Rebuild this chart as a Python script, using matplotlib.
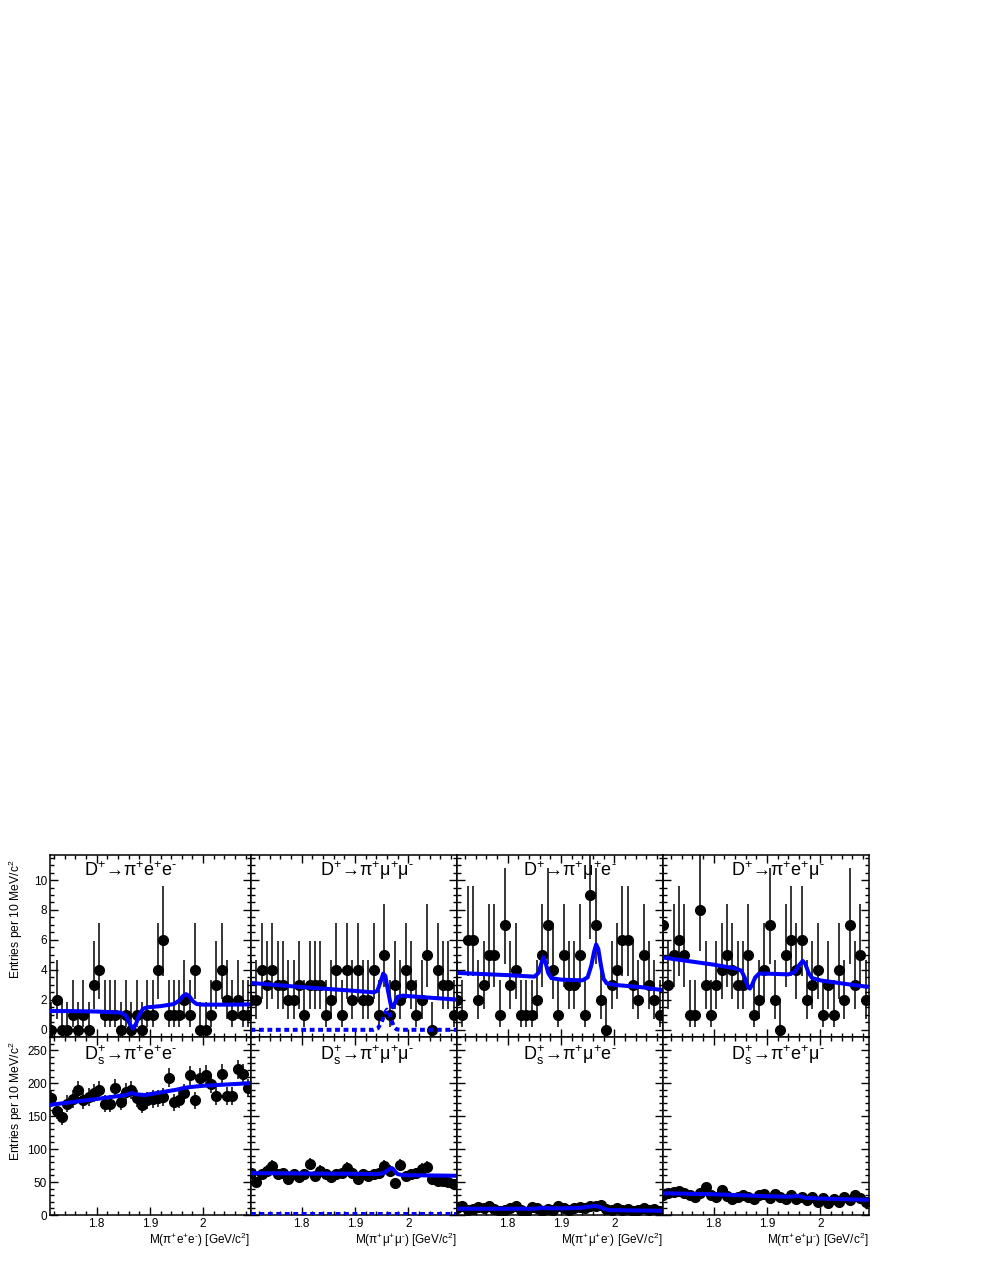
import numpy as np
import matplotlib
matplotlib.use("Agg")
import matplotlib.pyplot as plt
from matplotlib.ticker import MultipleLocator, FuncFormatter, NullFormatter

plt.rcParams['font.family'] = ['Liberation Sans', 'DejaVu Sans']
plt.rcParams['mathtext.fontset'] = 'custom'
plt.rcParams['mathtext.rm'] = 'Liberation Sans'
plt.rcParams['mathtext.it'] = 'Liberation Sans:italic'
plt.rcParams['mathtext.bf'] = 'Liberation Sans:bold'

# ---------------- data ----------------
BINS = np.round(np.arange(1.705, 2.09, 0.01), 3)      # 39 bin centres (10 MeV bins)

# top row: D+ channels (counts)
dp_ee   = [0, 2, 0, 0, 1, 0, 1, 0, 3, 4, 1, 1, 1, 0, 1, 0, 1, 0, 1, 1, 4, 6, 1, 1, 1, 2, 1, 4, 0, 0, 1, 3, 4, 2, 1, 2, 1, 1]   # starts at 1.715
dp_mumu = [2, 2, 4, 3, 4, 3, 3, 2, 2, 3, 1, 3, 3, 3, 1, 2, 4, 1, 4, 2, 4, 2, 2, 4, 1, 5, 1, 3, 2, 4, 3, 1, 2, 5, 0, 4, 3, 3, 1]
dp_mue  = [2, 1, 6, 6, 2, 3, 5, 5, 1, 7, 3, 4, 1, 1, 1, 2, 5, 7, 4, 1, 5, 3, 3, 5, 1, 9, 7, 2, 0, 3, 4, 6, 6, 3, 2, 5, 3, 2, 1]
dp_emu  = [7, 3, 5, 6, 5, 1, 1, 8, 3, 1, 3, 4, 5, 4, 3, 3, 5, 1, 2, 4, 7, 2, 0, 5, 6, 4, 6, 2, 3, 4, 1, 3, 1, 4, 2, 7, 3, 5, 2]

# bottom row: Ds+ channels (counts)
ds_ee   = [177, 158, 149, 169, 176, 190, 174, 179, 185, 189, 169, 169, 193, 172, 187, 189, 177, 167, 174, 176,
           177, 179, 208, 171, 175, 185, 212, 174, 208, 213, 199, 180, 214, 180, 180, 221, 214, 193]   # starts at 1.715
ds_mumu = [64, 50, 62, 67, 75, 62, 64, 54, 62, 58, 62, 77, 59, 67, 62, 58, 62, 64, 72, 64, 54, 62, 59, 62, 64,
           75, 67, 49, 76, 59, 62, 64, 70, 73, 55, 52, 52, 50, 47]
ds_mue  = [10, 14, 8, 9, 12, 10, 13, 9, 6, 8, 11, 13, 7, 5, 12, 10, 6, 9, 8, 13, 10, 8, 11, 12, 10, 14, 13, 15,
           9, 8, 10, 7, 9, 6, 8, 10, 7, 9, 6]
ds_emu  = [30, 34, 35, 36, 33, 30, 28, 33, 42, 30, 28, 38, 29, 25, 27, 30, 28, 25, 30, 32, 26, 32, 28, 24, 30,
           25, 28, 22, 27, 20, 26, 18, 24, 20, 27, 22, 31, 26, 20]

# fit curves (x, y)
fit_dp_ee_x = [1.712, 1.75, 1.80, 1.845, 1.855, 1.862, 1.868, 1.874, 1.880, 1.887, 1.895, 1.92, 1.945, 1.955,
               1.962, 1.968, 1.974, 1.981, 1.988, 2.00, 2.05, 2.089]
fit_dp_ee_y = [1.25, 1.25, 1.22, 1.15, 0.95, 0.4, 0.08, 0.4, 1.0, 1.4, 1.5, 1.58, 1.72, 1.95, 2.25, 2.38, 2.25,
               1.9, 1.72, 1.68, 1.68, 1.70]
fit_dp_mumu_x = [1.704, 1.80, 1.90, 1.935, 1.942, 1.948, 1.953, 1.957, 1.962, 1.967, 1.971, 1.975, 1.980, 1.99,
                 2.0, 2.05, 2.091]
fit_dp_mumu_y = [3.13, 2.85, 2.6, 2.5, 2.6, 3.2, 3.75, 3.6, 2.6, 1.7, 1.5, 1.8, 2.2, 2.28, 2.25, 2.12, 2.02]
bkg_dp_mumu_x = [1.704, 1.935, 1.943, 1.950, 1.956, 1.960, 1.964, 1.968, 1.973, 1.978, 1.985, 2.091]
bkg_dp_mumu_y = [0, 0, 0.1, 0.5, 1.1, 1.35, 1.2, 0.7, 0.2, 0.03, 0, 0]
fit_dp_mue_x = [1.704, 1.80, 1.85, 1.858, 1.863, 1.867, 1.871, 1.876, 1.882, 1.90, 1.94, 1.950, 1.957, 1.962,
                1.966, 1.970, 1.975, 1.980, 1.986, 2.0, 2.05, 2.091]
fit_dp_mue_y = [3.8, 3.65, 3.55, 3.8, 4.4, 4.85, 4.5, 3.8, 3.45, 3.35, 3.3, 3.5, 4.3, 5.2, 5.7, 5.4, 4.3, 3.4,
                3.1, 3.0, 2.85, 2.65]
fit_dp_emu_x = [1.704, 1.80, 1.84, 1.852, 1.858, 1.864, 1.868, 1.872, 1.878, 1.885, 1.90, 1.94, 1.952, 1.960,
                1.967, 1.972, 1.978, 1.985, 2.0, 2.05, 2.091]
fit_dp_emu_y = [4.83, 4.35, 4.1, 3.95, 3.5, 2.9, 2.75, 3.0, 3.5, 3.75, 3.75, 3.7, 3.85, 4.3, 4.6, 4.4, 3.8,
                3.45, 3.3, 3.05, 2.86]

fit_ds_ee_x = [1.712, 1.80, 1.855, 1.865, 1.875, 1.89, 1.95, 1.965, 1.975, 2.0, 2.089]
fit_ds_ee_y = [167, 176, 182, 185, 183, 182, 190, 193, 194, 196, 200]
fit_ds_mumu_x = [1.704, 1.80, 1.90, 1.945, 1.955, 1.963, 1.968, 1.973, 1.980, 1.99, 2.091]
fit_ds_mumu_y = [63.5, 63, 62.5, 62, 64, 69, 71, 68, 62, 60.5, 59.5]
bkg_ds_mumu_x = [1.704, 2.091]
bkg_ds_mumu_y = [2.0, 2.0]
fit_ds_mue_x = [1.704, 1.80, 1.855, 1.866, 1.877, 1.90, 1.94, 1.95, 1.962, 1.972, 1.982, 1.99, 2.091]
fit_ds_mue_y = [9.5, 9.5, 9.6, 11, 10.2, 10, 11, 12.5, 13.7, 12.5, 9, 7.5, 6.3]
fit_ds_emu_x = [1.704, 1.80, 1.90, 1.945, 1.955, 1.962, 1.972, 2.0, 2.091]
fit_ds_emu_y = [33, 31.5, 28.5, 27.8, 29, 28.5, 26, 25, 23]

M = r'$^{\text{-}}$'
top_titles = [r'D$^{+}$→π$^{+}$e$^{+}$e' + M, r'D$^{+}$→π$^{+}$μ$^{+}$μ' + M,
              r'D$^{+}$→π$^{+}$μ$^{+}$e' + M, r'D$^{+}$→π$^{+}$e$^{+}$μ' + M]
bot_titles = [r'D$_{\mathrm{s}}^{+}$→π$^{+}$e$^{+}$e' + M, r'D$_{\mathrm{s}}^{+}$→π$^{+}$μ$^{+}$μ' + M,
              r'D$_{\mathrm{s}}^{+}$→π$^{+}$μ$^{+}$e' + M, r'D$_{\mathrm{s}}^{+}$→π$^{+}$e$^{+}$μ' + M]
x_titles = [r'M(π$^{+}$e$^{+}$e' + M + r') [GeV/c$^{2}$]', r'M(π$^{+}$μ$^{+}$μ' + M + r') [GeV/c$^{2}$]',
            r'M(π$^{+}$μ$^{+}$e' + M + r') [GeV/c$^{2}$]', r'M(π$^{+}$e$^{+}$μ' + M + r') [GeV/c$^{2}$]']
y_title = r'Entries per 10 MeV/c$^{2}$'

# Garwood (68%) Poisson intervals for small counts: n -> (low, high)
POISSON = {0: (0.0, 1.841), 1: (0.827, 2.299), 2: (1.292, 2.637), 3: (1.633, 2.918), 4: (1.914, 3.162),
           5: (2.159, 3.382), 6: (2.380, 3.583), 7: (2.581, 3.770), 8: (2.768, 3.944), 9: (2.943, 4.110),
           10: (3.108, 4.266), 11: (3.265, 4.416), 12: (3.414, 4.559), 13: (3.558, 4.697), 14: (3.696, 4.830),
           15: (3.829, 4.958)}


def errs(counts):
    lo, hi = [], []
    for n in counts:
        if n in POISSON:
            l, h = POISSON[n]
        else:
            l = h = np.sqrt(n)
        lo.append(l)
        hi.append(h)
    return [lo, hi]


# ---------------- layout ----------------
W, H = 981, 1269
fig = plt.figure(figsize=(W / 100, H / 100), dpi=100)

cols = [(50, 250.5), (250.5, 456.5), (456.5, 662.5), (662.5, 868.5)]
rows = [(855, 1037), (1037, 1215)]
xlims = [(1.7124, 2.089), (1.704, 2.0905), (1.704, 2.0905), (1.704, 2.0905)]

top_data = [dp_ee, dp_mumu, dp_mue, dp_emu]
bot_data = [ds_ee, ds_mumu, ds_mue, ds_emu]
top_fits = [(fit_dp_ee_x, fit_dp_ee_y), (fit_dp_mumu_x, fit_dp_mumu_y),
            (fit_dp_mue_x, fit_dp_mue_y), (fit_dp_emu_x, fit_dp_emu_y)]
bot_fits = [(fit_ds_ee_x, fit_ds_ee_y), (fit_ds_mumu_x, fit_ds_mumu_y),
            (fit_ds_mue_x, fit_ds_mue_y), (fit_ds_emu_x, fit_ds_emu_y)]
title_x = [0.40, 0.565, 0.55, 0.56]

BLUE = '#0000ff'


def style(ax, r, c):
    ax.set_xlim(*xlims[c])
    ax.xaxis.set_major_locator(MultipleLocator(0.1))
    ax.xaxis.set_minor_locator(MultipleLocator(0.02))
    if r == 0:
        ax.set_ylim(-0.48, 11.67)
        ax.yaxis.set_major_locator(MultipleLocator(2))
        ax.yaxis.set_minor_locator(MultipleLocator(0.5))
    else:
        ax.set_ylim(0, 270)
        ax.yaxis.set_major_locator(MultipleLocator(50))
        ax.yaxis.set_minor_locator(MultipleLocator(10))
    ax.tick_params(which='both', direction='in', top=True, right=True, width=1.0, labelsize=8.5, pad=2)
    ax.tick_params(which='major', length=6)
    ax.tick_params(which='minor', length=3)
    for s in ax.spines.values():
        s.set_linewidth(1.1)
    if r == 0:
        ax.xaxis.set_major_formatter(NullFormatter())
    else:
        ax.xaxis.set_major_formatter(FuncFormatter(lambda v, p: f'{v:g}'))
    if c != 0:
        ax.yaxis.set_major_formatter(NullFormatter())
    else:
        ax.yaxis.set_major_formatter(FuncFormatter(lambda v, p: f'{v:g}'))


for r, (t, b) in enumerate(rows):
    for c, (l, rr) in enumerate(cols):
        ax = fig.add_axes([l / W, 1 - b / H, (rr - l) / W, (b - t) / H])
        style(ax, r, c)
        data = top_data[c] if r == 0 else bot_data[c]
        xs = BINS[1:] if c == 0 else BINS
        fx, fy = top_fits[c] if r == 0 else bot_fits[c]
        if c == 1:
            bx, by = (bkg_dp_mumu_x, bkg_dp_mumu_y) if r == 0 else (bkg_ds_mumu_x, bkg_ds_mumu_y)
            ax.plot(bx, by, color=BLUE, lw=2.9, linestyle=(0, (1.2, 0.9)), zorder=3)
        ax.errorbar(xs, data, yerr=errs(data), fmt='o', color='black', ms=7.0, elinewidth=1.1,
                    capsize=0, zorder=2)
        ax.plot(fx, fy, color=BLUE, lw=2.9, solid_capstyle='butt', zorder=4)
        ax.text(title_x[c], 0.915 if r == 0 else 0.90,
                top_titles[c] if r == 0 else bot_titles[c],
                transform=ax.transAxes, ha='center', va='center', fontsize=13)
        if r == 1:
            fig.text(rr / W, 1 - 1240 / H, x_titles[c], ha='right', va='center', fontsize=8.5)

fig.text(15.5 / W, 1 - 859 / H, y_title, rotation=90, ha='center', va='top', fontsize=8.7)
fig.text(15.5 / W, 1 - 1041 / H, y_title, rotation=90, ha='center', va='top', fontsize=8.7)

fig.savefig('out.png', dpi=100)
